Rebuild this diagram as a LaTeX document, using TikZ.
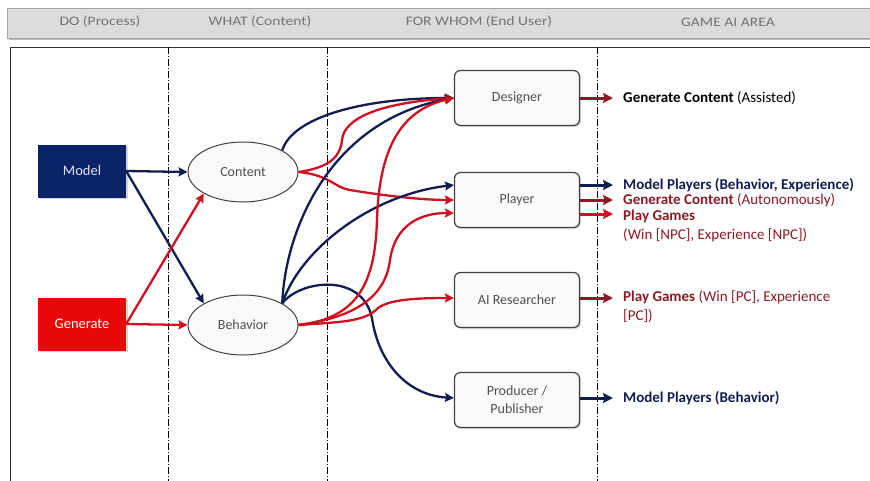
\documentclass[tikz,border=0pt]{standalone}
\usepackage{fontspec}
\setmainfont{Carlito}
\usetikzlibrary{shapes.geometric,arrows.meta,shadows}
\definecolor{navy}{HTML}{0F1E4E}
\definecolor{navyfill}{HTML}{0A2366}
\definecolor{redline}{HTML}{D01020}
\definecolor{redfill}{HTML}{E80808}
\definecolor{darkred}{HTML}{8B1A24}
\definecolor{txtgray}{HTML}{505050}
\tikzset{
  procbox/.style={draw=none, minimum width=88pt, minimum height=53pt, font=\fontsize{14.5}{16}\selectfont, drop shadow={shadow xshift=1.5pt,shadow yshift=-1.5pt,opacity=0.35}},
  contentell/.style={ellipse, draw=black!75, line width=1pt, fill=gray!5, minimum width=110pt, minimum height=60pt, font=\fontsize{14}{16}\selectfont, text=txtgray},
  userbox/.style={rectangle, rounded corners=6pt, draw=black!75, line width=1.2pt, fill=gray!4, minimum width=125pt, minimum height=55pt, align=center, font=\fontsize{14}{18}\selectfont, text=txtgray, drop shadow={shadow xshift=1.5pt,shadow yshift=-1.5pt,opacity=0.3}},
  conn/.style={line width=2.3pt, -{Stealth[length=9pt,width=9pt,inset=1.5pt]}},
  outarr/.style={line width=3pt, -{Stealth[length=10pt,width=10pt,inset=1.5pt]}},
  lbl/.style={anchor=west, font=\fontsize{15}{19}\selectfont, align=left, inner sep=0pt},
  hdr/.style={font=\fontsize{13}{14}\selectfont, text=gray!90!black},
  sep/.style={line width=0.8pt, dash pattern=on 7pt off 2pt on 1pt off 2pt}
}
\newcommand{\hx}[1]{\scalebox{1.2}[1]{#1}}
\begin{document}
\begin{tikzpicture}[x=1pt,y=-1pt]
\useasboundingbox (0,0) rectangle (870,480);
% header
\fill[gray!55] (9,10) rectangle (872,40);
\draw[fill=gray!28, draw=gray!70, line width=0.8pt] (7,8) rectangle (872,38);
\node[hdr] (h1) at (100,22) {\hx{DO (Process)}};
\node[hdr] (h2) at (260,22) {\hx{WHAT (Content)}};
\node[hdr] (h3) at (479,22) {\hx{FOR WHOM (End User)}};
\node[hdr] (h4) at (728,22) {\hx{GAME AI AREA}};
% frame
\draw[black!80, line width=1pt] (10,482) -- (10,47) -- (872,47);
\draw[sep] (168,47) -- (168,482);
\draw[sep] (327,47) -- (327,482);
\draw[sep] (597,47) -- (597,482);
% nodes
\node[procbox, fill=navyfill, text=blue!12] (model) at (82,171) {Model};
\node[procbox, fill=redfill, text=white] (gen) at (82,324) {Generate};
\node[contentell] (content) at (243,172) {Content};
\node[contentell] (behav) at (243,325) {Behavior};
\node[userbox] (designer) at (517,98) {Designer};
\node[userbox] (player) at (517,200) {Player};
\node[userbox] (air) at (517,300) {AI Researcher};
\node[userbox] (prod) at (517,400) {Producer /\\Publisher};
% left connectors
\draw[conn, navy] (model.east) -- (content.west);
\draw[conn, navy] (model.east) -- (behav.north west);
\draw[conn, redline] (gen.east) -- (content.south west);
\draw[conn, redline] (gen.east) -- (behav.west);
% coordinates for user-box entry points
\coordinate (dIn) at (designer.west);
\coordinate (pIn1) at ([yshift=15pt]player.west);
\coordinate (pIn2) at (player.west);
\coordinate (pIn3) at ([yshift=-13pt]player.west);
\coordinate (aIn) at ([yshift=2pt]air.west);
\coordinate (prIn) at ([yshift=2pt]prod.west);
% content connectors
\draw[conn, navy] (content.north east) .. controls (292,118) and (360,98) .. (dIn);
\draw[conn, redline] (content.east) .. controls (325,168) and (340,160) .. (342,140) .. controls (344,118) and (380,103) .. (dIn);
\draw[conn, redline] (content.east) .. controls (330,175) and (335,188) .. (350,190) .. controls (380,195) and (420,200) .. (pIn2);
% behavior connectors
\draw[conn, navy] (behav.north east) .. controls (285,230) and (330,120) .. (dIn);
\draw[conn, navy] (behav.north east) .. controls (300,250) and (370,195) .. (pIn1);
\draw[conn, navy] (behav.north east) .. controls (300,280) and (362,272) .. (372,318) .. controls (378,360) and (405,395) .. (prIn);
\draw[conn, redline] (behav.east) .. controls (360,318) and (375,280) .. (377,220) .. controls (379,150) and (400,110) .. (dIn);
\draw[conn, redline] (behav.east) .. controls (350,318) and (385,300) .. (390,260) .. controls (395,225) and (420,213) .. (pIn3);
\draw[conn, redline] (behav.east) .. controls (340,322) and (365,322) .. (378,308) .. controls (390,299) and (420,298) .. (aIn);
% output arrows
\coordinate (o1) at (613,98);
\coordinate (o2) at (613,185);
\coordinate (o3) at (613,200);
\coordinate (o4) at (613,214);
\coordinate (o5) at (613,298);
\coordinate (o6) at (613,398);
\draw[outarr, darkred] (designer.east) -- (o1);
\draw[outarr, navy] ([yshift=15pt]player.east) -- (o2);
\draw[outarr, darkred] (player.east) -- (o3);
\draw[outarr, redline] ([yshift=-14pt]player.east) -- (o4);
\draw[outarr, darkred] ([yshift=2pt]air.east) -- (o5);
\draw[outarr, navy] ([yshift=2pt]prod.east) -- (o6);
% labels
\node[lbl] (l1) at (623,98) {\textbf{Generate Content} (Assisted)};
\node[lbl, text=navy] (l2) at (623,185) {\textbf{Model Players (Behavior, Experience)}};
\node[lbl, text=darkred] (l3) at (623,200) {\textbf{Generate Content} (Autonomously)};
\node[lbl, text=darkred, anchor=north west] (l4) at (623,210) {\textbf{Play Games}\\(Win [NPC], Experience [NPC])};
\node[lbl, text=darkred, anchor=north west] (l5) at (623,290) {\textbf{Play Games} (Win [PC], Experience\\{}[PC])};
\node[lbl, text=navy] (l6) at (623,398) {\textbf{Model Players (Behavior)}};
\end{tikzpicture}
\end{document}
